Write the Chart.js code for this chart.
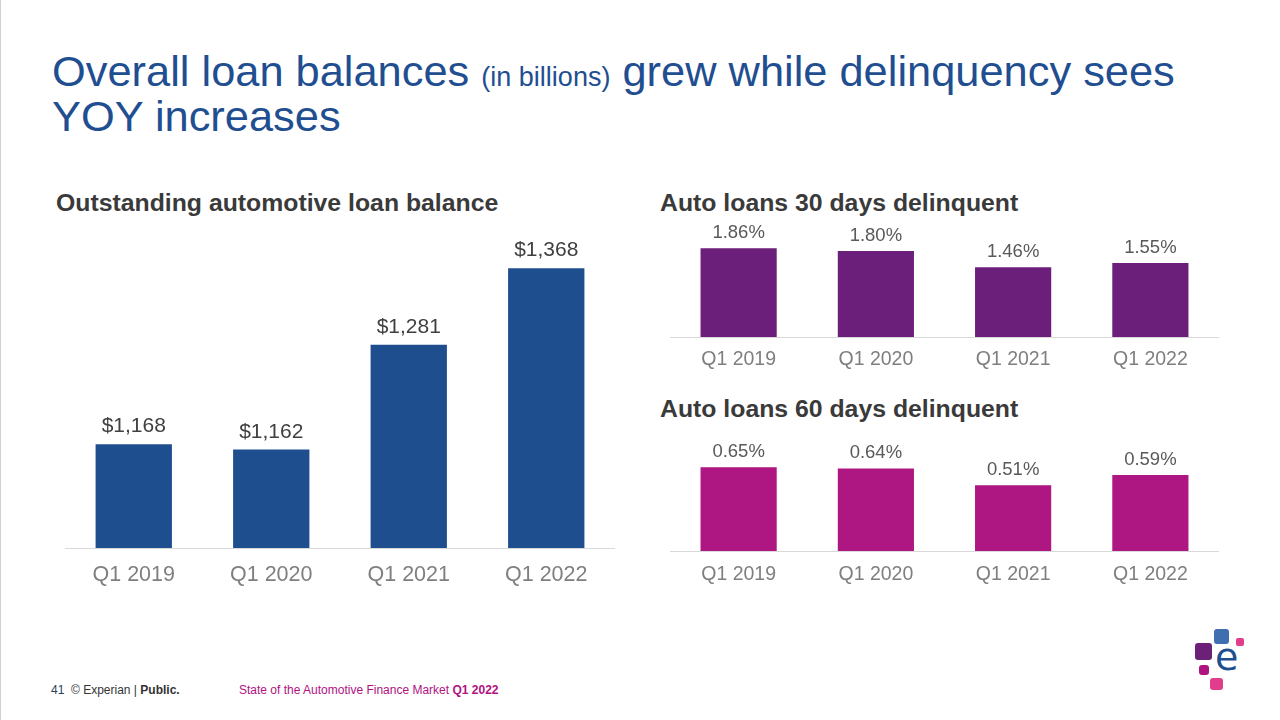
<!DOCTYPE html>
<html>
<head>
<meta charset="utf-8">
<script src="https://cdn.jsdelivr.net/npm/chart.js@4"></script>
<style>
  body { margin: 0; background: #fff; font-family: "Liberation Sans", Arial, sans-serif; }
  #slide { position: relative; width: 1280px; height: 720px; overflow: hidden; border-left: 1px solid #d0d0d0; box-sizing: border-box; }
  .abs { position: absolute; }
  h1 { position: absolute; left: 51px; top: 49px; margin: 0; font-weight: normal; font-size: 43.4px; line-height: 45px; color: #1f4e91; }
  h1 small { font-size: 27px; line-height: 0; }
  .sub { font-weight: bold; font-size: 24.8px; color: #3a3a3a; white-space: nowrap; }
  .foot { font-size: 12px; top: 683px; }
  .sq { position: absolute; border-radius: 3px; }
</style>
</head>
<body>
<div id="slide">
  <h1>Overall loan balances <small>(in billions)</small> grew while delinquency sees<br>YOY increases</h1>

  <div class="abs sub" style="left:55px; top:189px;">Outstanding automotive loan balance</div>
  <div class="abs sub" style="left:659px; top:189px;">Auto loans 30 days delinquent</div>
  <div class="abs sub" style="left:659px; top:395px;">Auto loans 60 days delinquent</div>

  <div class="abs" style="left:64px; top:210px; width:550px; height:380px;"><canvas id="balanceChart"></canvas></div>
  <div class="abs" style="left:669px; top:200px; width:549px; height:179px;"><canvas id="del30Chart"></canvas></div>
  <div class="abs" style="left:669px; top:410px; width:549px; height:183px;"><canvas id="del60Chart"></canvas></div>

  <div class="abs foot" style="left:50px; color:#2b3f5c;">41</div>
  <div class="abs foot" style="left:70px; color:#333;">© Experian | <b>Public.</b></div>
  <div class="abs foot" style="left:238px; color:#b0127f;">State of the Automotive Finance Market <b>Q1 2022</b></div>

  <!-- logo -->
  <div class="sq" style="left:1213px; top:629px; width:15px; height:15px; background:#3f6fb0;"></div>
  <div class="sq" style="left:1235px; top:638px; width:8px; height:8px; background:#e23c8c; border-radius:2px;"></div>
  <div class="sq" style="left:1194px; top:643px; width:17px; height:17px; background:#6d2077;"></div>
  <div class="sq" style="left:1198px; top:665px; width:10px; height:10px; background:#b0127f;"></div>
  <div class="sq" style="left:1209px; top:678px; width:13px; height:12px; background:#e23c8c;"></div>
  <div class="abs" style="left:1214px; top:638px; font-size:38px; line-height:38px; color:#1d4f91; font-family:'DejaVu Sans', sans-serif;">e</div>
</div>

<script>
// Datos
const quarters = ['Q1 2019', 'Q1 2020', 'Q1 2021', 'Q1 2022'];
const balanceValues = [1168, 1162, 1281, 1368];
const delinquent30Values = [1.86, 1.80, 1.46, 1.55];
const delinquent60Values = [0.65, 0.64, 0.51, 0.59];

// Etiquetas de valor encima de cada barra
const valueLabels = {
    id: 'valueLabels',
    afterDatasetsDraw(chart, args, opts) {
        const ctx = chart.ctx;
        const meta = chart.getDatasetMeta(0);
        ctx.save();
        ctx.font = opts.font;
        ctx.fillStyle = opts.color;
        ctx.textAlign = 'center';
        ctx.textBaseline = 'bottom';
        meta.data.forEach((bar, i) => {
            const v = chart.data.datasets[0].data[i];
            ctx.fillText(opts.format(v), bar.x, bar.y - opts.offset);
        });
        ctx.restore();
    }
};

function makeBarChart(id, values, color, yMin, yMax, padTop, labelOpts, tickSize, tickPad) {
    return new Chart(document.getElementById(id), {
        type: 'bar',
        data: {
            labels: quarters,
            datasets: [{
                data: values,
                backgroundColor: color,
                categoryPercentage: 1,
                barPercentage: 0.555
            }]
        },
        options: {
            responsive: true,
            maintainAspectRatio: false,
            animation: false,
            layout: { padding: { top: padTop, left: 0, right: 0, bottom: 0 } },
            scales: {
                x: {
                    grid: { display: false },
                    border: { display: true, color: '#d9d9d9', width: 1 },
                    ticks: {
                        color: '#7f7f7f',
                        font: { family: 'Liberation Sans', size: tickSize },
                        padding: tickPad
                    },
                    afterFit(scale) { scale.height = 42; }
                },
                y: {
                    display: false,
                    min: yMin,
                    max: yMax
                }
            },
            plugins: {
                legend: { display: false },
                tooltip: { enabled: false },
                valueLabels: labelOpts
            }
        },
        plugins: [valueLabels]
    });
}

makeBarChart('balanceChart', balanceValues, '#1f4e8f', 1050, 1400, 30, {
    font: '21px "Liberation Sans"',
    color: '#404040',
    offset: 7,
    format: v => '$' + v.toLocaleString('en-US')
}, 21.5, 6);

makeBarChart('del30Chart', delinquent30Values, '#6b1f7a', 0, 2.2, 32, {
    font: '18.5px "Liberation Sans"',
    color: '#595959',
    offset: 6,
    format: v => v.toFixed(2) + '%'
}, 19.5, 3);

makeBarChart('del60Chart', delinquent60Values, '#ae1681', 0, 0.8, 38, {
    font: '18.5px "Liberation Sans"',
    color: '#595959',
    offset: 6,
    format: v => v.toFixed(2) + '%'
}, 19.5, 4);
</script>
</body>
</html>
